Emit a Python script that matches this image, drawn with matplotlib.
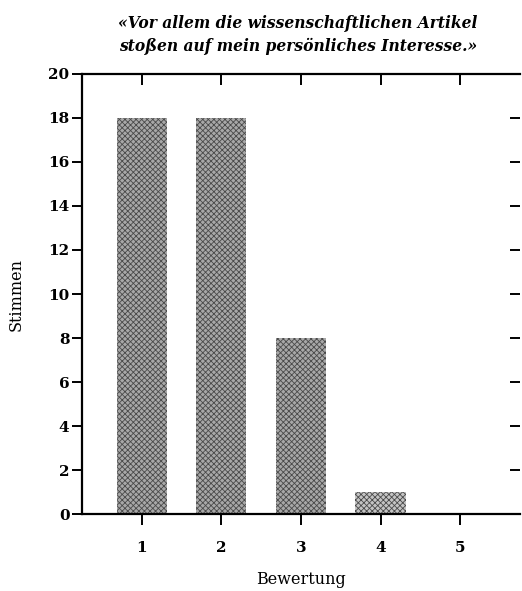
import matplotlib
matplotlib.use('Agg')
import matplotlib.pyplot as plt

categories = [1, 2, 3, 4, 5]
votes = [18, 18, 8, 1, 0]
yticks = [0, 2, 4, 6, 8, 10, 12, 14, 16, 18, 20]

title = '\u00abVor allem die wissenschaftlichen Artikel\nsto\u00dfen auf mein pers\u00f6nliches Interesse.\u00bb'
serif = 'DejaVu Serif'

fig = plt.figure(figsize=(5.22, 5.91), dpi=100)
ax = fig.add_axes([0.157, 0.130, 0.839, 0.745])

plt.rcParams['hatch.linewidth'] = 0.6
bars = ax.bar(categories, votes, width=0.63, color='#a8a8a8', edgecolor='#4a4a4a',
              hatch='xxxxxx', linewidth=0)
bars[3].set_facecolor('#c4c4c4')

ax.set_xlim(0.25, 5.75)
ax.set_ylim(0, 20)
ax.set_xticks(categories)
ax.set_yticks(yticks)

for s in ['left', 'bottom', 'top']:
    ax.spines[s].set_linewidth(1.6)
ax.spines['right'].set_visible(False)

ax.tick_params(axis='y', left=True, right=True, direction='out', length=7, width=1.4, pad=2)
ax.tick_params(axis='x', bottom=True, top=True, direction='out', length=8, width=1.4, pad=11)
for t in ax.xaxis.get_major_ticks():
    t.tick2line.set_marker(3)  # top ticks pointing down (inward)
    t.tick2line.set_markersize(8)
for t in ax.yaxis.get_major_ticks():
    t.tick2line.set_marker(0)  # right ticks pointing left (inward)
    t.tick2line.set_markersize(7)

for lbl in ax.get_xticklabels() + ax.get_yticklabels():
    lbl.set_fontfamily(serif)
    lbl.set_fontweight('bold')
    lbl.set_fontsize(11)

ax.set_ylabel('Stimmen', fontfamily=serif, fontsize=11.5, labelpad=17)
ax.set_xlabel('Bewertung', fontfamily=serif, fontsize=11.5, labelpad=12)

fig.text(0.571, 0.941, title, ha='center', va='center', fontfamily=serif,
         fontstyle='italic', fontweight='bold', fontsize=11.2, linespacing=1.4)

fig.savefig('out.png', dpi=100)
